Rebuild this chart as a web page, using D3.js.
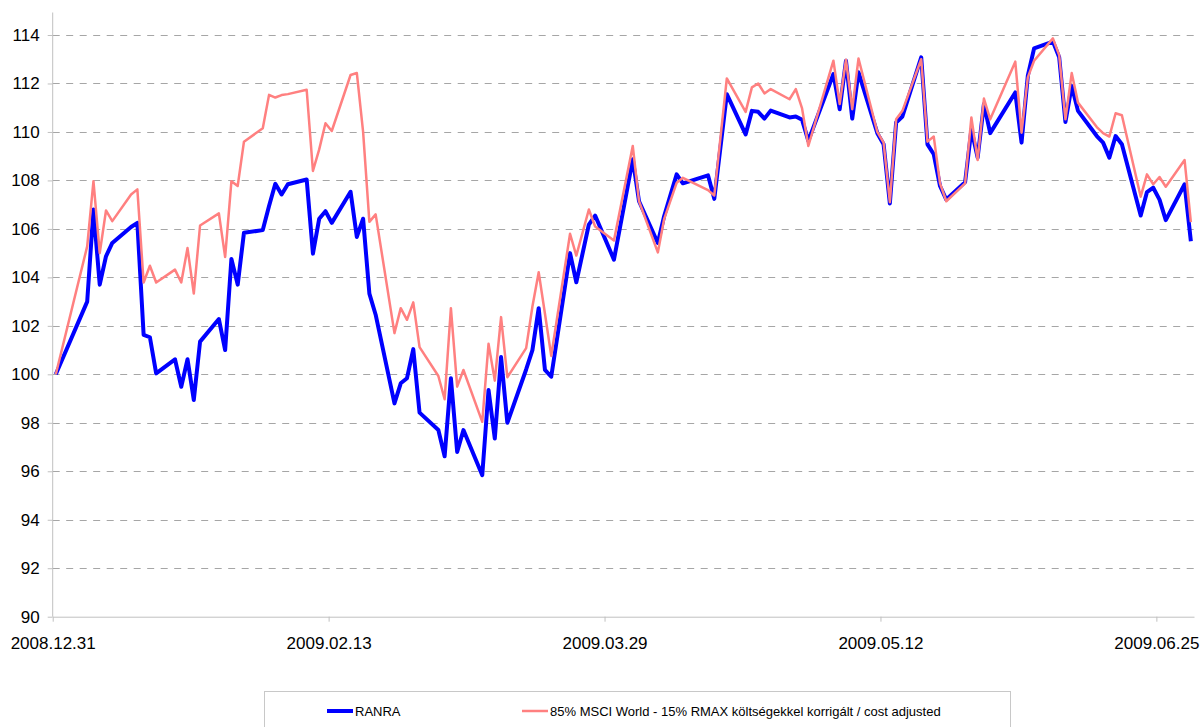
<!DOCTYPE html>
<meta charset="utf-8">
<style>
  body { margin: 0; background: #fff; }
  .grid line { stroke: #a6a6a6; stroke-width: 1px; stroke-dasharray: 7, 6.5; }
  .axis text { font-family: "Liberation Sans", Arial, sans-serif; font-size: 17px; fill: #000; }
  .axis line, .axis path, .frame { stroke: #c0c0c0; stroke-width: 1px; fill: none; }
  .legend text { font-family: "Liberation Sans", Arial, sans-serif; font-size: 13px; fill: #000; }
</style>
<body>
<svg id="chart" width="1204" height="727"></svg>
<script src="https://d3js.org/d3.v7.min.js"></script>
<script>

// trading days
var dates = [
  "2008-12-31",
  "2009-01-05", "2009-01-06", "2009-01-07", "2009-01-08", "2009-01-09",
  "2009-01-12", "2009-01-13", "2009-01-14", "2009-01-15", "2009-01-16",
  "2009-01-19", "2009-01-20", "2009-01-21", "2009-01-22", "2009-01-23",
  "2009-01-26", "2009-01-27", "2009-01-28", "2009-01-29", "2009-01-30",
  "2009-02-02", "2009-02-03", "2009-02-04", "2009-02-05", "2009-02-06",
  "2009-02-09", "2009-02-10", "2009-02-11", "2009-02-12", "2009-02-13",
  "2009-02-16", "2009-02-17", "2009-02-18", "2009-02-19", "2009-02-20",
  "2009-02-23", "2009-02-24", "2009-02-25", "2009-02-26", "2009-02-27",
  "2009-03-02", "2009-03-03", "2009-03-04", "2009-03-05", "2009-03-06",
  "2009-03-09", "2009-03-10", "2009-03-11", "2009-03-12", "2009-03-13",
  "2009-03-16", "2009-03-17", "2009-03-18", "2009-03-19", "2009-03-20",
  "2009-03-23", "2009-03-24", "2009-03-26", "2009-03-27",
  "2009-03-30", "2009-04-02", "2009-04-03",
  "2009-04-06", "2009-04-07", "2009-04-09", "2009-04-10",
  "2009-04-14", "2009-04-15", "2009-04-17",
  "2009-04-20", "2009-04-21", "2009-04-22", "2009-04-23", "2009-04-24",
  "2009-04-27", "2009-04-28", "2009-04-29", "2009-04-30",
  "2009-05-04", "2009-05-05", "2009-05-06", "2009-05-07", "2009-05-08",
  "2009-05-11", "2009-05-12", "2009-05-13", "2009-05-14", "2009-05-15",
  "2009-05-18", "2009-05-19", "2009-05-20", "2009-05-21", "2009-05-22",
  "2009-05-25", "2009-05-26", "2009-05-27", "2009-05-28", "2009-05-29",
  "2009-06-02", "2009-06-03", "2009-06-04", "2009-06-05",
  "2009-06-08", "2009-06-09", "2009-06-10", "2009-06-11", "2009-06-12",
  "2009-06-15", "2009-06-16", "2009-06-17", "2009-06-18", "2009-06-19",
  "2009-06-22", "2009-06-23", "2009-06-24", "2009-06-25", "2009-06-26",
  "2009-06-29", "2009-06-30"
];

var ranra = [
  100.0,
  103.0, 106.8, 103.7, 104.87, 105.42,
  106.08, 106.25, 101.63, 101.53, 100.04,
  100.62, 99.49, 100.62, 98.94, 101.35,
  102.28, 101.0, 104.76, 103.7, 105.84,
  105.95, 106.94, 107.86, 107.42, 107.84,
  108.04, 104.98, 106.42, 106.73, 106.25,
  107.53, 105.67, 106.42, 103.33, 102.46,
  98.8, 99.63, 99.84, 101.04, 98.42,
  97.7, 96.62, 99.84, 96.8, 97.7,
  95.84, 99.35, 97.35, 100.71, 98.0,
  100.2, 101.0, 102.73, 100.18, 99.9,
  105.0, 103.8, 106.18, 106.55,
  104.73, 108.87, 107.14,
  105.42, 106.52, 108.25, 107.88,
  108.21, 107.24, 111.56,
  109.9, 110.87, 110.83, 110.55, 110.88,
  110.6, 110.64, 110.5, 109.63,
  112.39, 110.94, 112.94, 110.55, 112.46,
  109.95, 109.49, 107.05, 110.39, 110.64,
  113.08, 109.49, 109.08, 107.77, 107.21,
  107.93, 110.1, 108.94, 111.15, 109.95,
  111.63, 109.56, 112.32, 113.45,
  113.73, 113.08, 110.41, 111.9, 110.87,
  109.83, 109.56, 108.94, 109.83, 109.49,
  106.55, 107.52, 107.7, 107.21, 106.36,
  107.84, 105.49
];

var benchmark = [
  100.0,
  105.28, 107.97, 105.0, 106.76, 106.32,
  107.42, 107.63, 103.79, 104.48, 103.79,
  104.32, 103.79, 105.21, 103.33, 106.14,
  106.64, 104.84, 107.97, 107.77, 109.6,
  110.15, 111.53, 111.42, 111.52, 111.56,
  111.74, 108.39, 109.28, 110.36, 110.04,
  112.35, 112.43, 110.0, 106.29, 106.6,
  101.7, 102.73, 102.25, 102.97, 101.12,
  99.93, 98.97, 102.73, 99.49, 100.18,
  98.04, 101.26, 99.74, 102.36, 99.88,
  101.08, 102.8, 104.21, 102.5, 100.76,
  105.8, 104.9, 106.8, 106.1,
  105.52, 109.42, 107.14,
  105.03, 106.4, 107.9, 108.11,
  107.6, 107.38, 112.21,
  110.83, 111.84, 112.0, 111.59, 111.77,
  111.35, 111.77, 110.97, 109.42,
  112.94, 111.15, 112.98, 110.94, 113.03,
  110.0, 109.56, 107.1, 110.52, 110.87,
  113.0, 109.6, 109.81, 107.88, 107.14,
  107.88, 110.6, 108.84, 111.38, 110.52,
  112.9, 109.97, 112.25, 112.94,
  113.86, 113.17, 110.52, 112.43, 111.21,
  110.2, 109.95, 109.81, 110.77, 110.69,
  107.33, 108.25, 107.84, 108.14, 107.74,
  108.84, 106.28
];

var yTicks = [90, 92, 94, 96, 98, 100, 102, 104, 106, 108, 110, 112, 114];
var xTicks = ["2008-12-31", "2009-02-13", "2009-03-29", "2009-05-12", "2009-06-25"];
var seriesNames = ["RANRA", "85% MSCI World - 15% RMAX költségekkel korrigált / cost adjusted"];
var seriesColors = ["#0000ff", "#ff8080"];

var parse = d3.utcParse("%Y-%m-%d");

var svg = d3.select("#chart");
var plotLeft = 52.7, plotRight = 1194, plotTop = 35, plotBottom = 616.7;

var x = d3.scaleUtc()
  .domain([parse("2008-12-31"), parse("2009-07-01")])
  .range([plotLeft, plotRight]);

var y = d3.scaleLinear()
  .domain([90, 114])
  .range([plotBottom, plotTop]);

// dashed gridlines
svg.append("g")
  .attr("class", "grid")
  .selectAll("line")
  .data(yTicks.filter(function(d) { return d !== 90; }))
  .enter().append("line")
  .attr("x1", plotLeft).attr("x2", plotRight)
  .attr("y1", function(d) { return Math.round(y(d)) + 0.5; })
  .attr("y2", function(d) { return Math.round(y(d)) + 0.5; });

// y axis
var yAxis = svg.append("g")
  .attr("class", "axis")
  .attr("transform", "translate(" + plotLeft + ",0)")
  .call(d3.axisLeft(y).tickValues(yTicks).tickSize(5).tickSizeOuter(0).tickPadding(8));
yAxis.select(".domain").remove();
svg.append("line")
  .attr("class", "frame")
  .attr("x1", plotLeft).attr("x2", plotLeft)
  .attr("y1", 12.5).attr("y2", plotBottom);

// x axis
svg.append("g")
  .attr("class", "axis")
  .attr("transform", "translate(0," + plotBottom + ")")
  .call(d3.axisBottom(x)
    .tickValues(xTicks.map(parse))
    .tickFormat(d3.utcFormat("%Y.%m.%d"))
    .tickSize(5).tickSizeOuter(0).tickPadding(15.5));

// points sit in the middle of their day
var rows = dates.map(function(d, i) {
  return { date: d3.utcHour.offset(parse(d), 12), ranra: ranra[i], bench: benchmark[i] };
});

var line = function(key) {
  return d3.line()
    .x(function(d) { return x(d.date); })
    .y(function(d) { return y(d[key]); });
};

svg.append("path")
  .datum(rows)
  .attr("fill", "none")
  .attr("stroke", seriesColors[0])
  .attr("stroke-width", 4)
  .attr("stroke-linejoin", "round")
  .attr("d", line("ranra"));

svg.append("path")
  .datum(rows)
  .attr("fill", "none")
  .attr("stroke", seriesColors[1])
  .attr("stroke-width", 2.5)
  .attr("stroke-linejoin", "round")
  .attr("d", line("bench"));

// legend
var legend = svg.append("g").attr("class", "legend");
legend.append("rect")
  .attr("x", 264.5).attr("y", 691.5)
  .attr("width", 746).attr("height", 60)
  .attr("fill", "#fff")
  .attr("stroke", "#c8c8c8");

var legendX = [327, 522];
seriesNames.forEach(function(name, i) {
  legend.append("line")
    .attr("x1", legendX[i]).attr("x2", legendX[i] + 26)
    .attr("y1", 711).attr("y2", 711)
    .attr("stroke", seriesColors[i])
    .attr("stroke-width", i === 0 ? 4 : 2.5);
  legend.append("text")
    .attr("x", legendX[i] + 28)
    .attr("y", 711)
    .attr("dy", "0.35em")
    .text(name);
});

</script>
</body>
